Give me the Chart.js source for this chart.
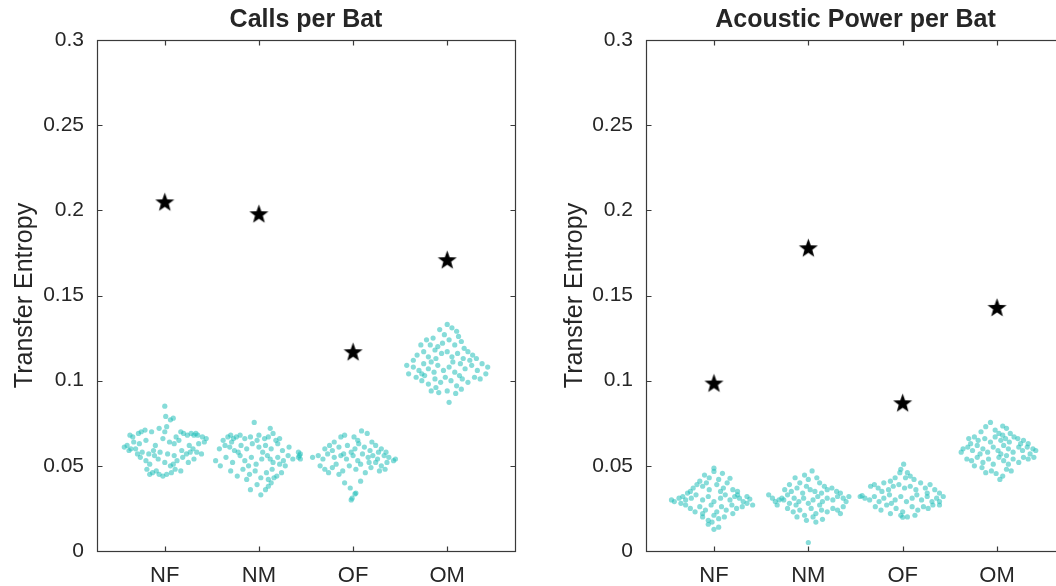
<!DOCTYPE html>
<html>
<head>
<meta charset="utf-8">
<script src="https://cdn.jsdelivr.net/npm/chart.js@4.4.1/dist/chart.umd.min.js"></script>
<style>
  html, body { margin: 0; padding: 0; background: #fff; overflow: hidden; width: 1056px; height: 586px; }
  .panel { position: absolute; top: 0; }
</style>
</head>
<body>
<div class="panel" style="left:0px"><canvas id="calls" width="530" height="586"></canvas></div>
<div class="panel" style="left:530px"><canvas id="power" width="545" height="586"></canvas></div>
<script>
// categories and axis ticks
var categories = ['NF', 'NM', 'OF', 'OM'];
var yTickValues = [0, 0.05, 0.1, 0.15, 0.2, 0.25, 0.3];
var yTickLabels = ['0', '0.05', '0.1', '0.15', '0.2', '0.25', '0.3'];

// star markers (one per category)
var callsStar = [0.205, 0.198, 0.117, 0.171];
var powerStar = [0.0986, 0.178, 0.087, 0.143];

// swarm points, [x offset from category, transfer entropy]
var callsNF = [[0.00,.085],[0.01,.079],[0.06,.077],[0.09,.078],[0.02,.073],[-0.06,.072],[0.0,.070],
  [-0.37,.068],[-0.34,.067],[-0.28,.069],[-0.25,.070],[-0.21,.071],[-0.14,.070],[0.12,.067],[0.2,.069],[0.24,.068],[0.28,.069],[0.31,.068],[0.35,.068],[0.40,.067],[0.44,.066],[0.17,.070],[0.33,.069],
  [-0.40,.062],[-0.33,.064],[-0.27,.063],[-0.2,.065],[-0.1,.062],[-0.02,.066],[0.05,.064],[0.1,.063],[0.15,.065],[0.26,.062],[0.36,.063],[0.42,.064],[-0.43,.061],[0.3,.060],[-0.36,.060],
  [-0.31,.060],[-0.24,.058],[-0.17,.057],[-0.12,.059],[-0.05,.058],[0.03,.057],[0.1,.056],[0.18,.059],[0.23,.057],[0.34,.058],[0.39,.057],[-0.38,.059],[-0.29,.057],[0.27,.058],
  [-0.26,.055],[-0.2,.053],[-0.16,.051],[-0.07,.054],[0.0,.052],[0.06,.050],[0.13,.053],[0.19,.055],[0.25,.052],[0.31,.054],[-0.11,.056],[0.09,.051],
  [-0.19,.048],[-0.13,.046],[-0.06,.045],[-0.02,.044],[0.02,.045],[-0.09,.047],[0.07,.046],[-0.16,.045],[0.11,.048],[0.17,.047]];
var callsNM = [[-0.05,.0755],[0.12,.072],[0.15,.069],[-0.02,.065],
  [-0.38,.065],[-0.33,.067],[-0.30,.068],[-0.27,.066],[-0.24,.067],[-0.2,.068],[-0.15,.066],[-0.09,.067],[0.0,.068],[0.06,.066],[0.1,.067],[0.18,.065],[0.22,.066],[-0.29,.064],
  [-0.42,.060],[-0.36,.062],[-0.31,.061],[-0.26,.059],[-0.19,.062],[-0.13,.060],[-0.07,.063],[0.0,.061],[0.07,.062],[0.13,.060],[0.2,.063],[0.25,.059],[0.32,.061],[-0.22,.058],[0.04,.058],
  [-0.46,.053],[-0.41,.050],[-0.35,.055],[-0.28,.052],[-0.2,.056],[-0.15,.053],[-0.08,.055],[-0.03,.051],[0.03,.054],[0.09,.056],[0.15,.052],[0.2,.055],[0.26,.053],[0.31,.056],[0.36,.054],[0.42,.055],[0.44,.057],[0.28,.050],[-0.11,.050],[0.12,.054],[0.22,.051],
  [-0.3,.047],[-0.23,.044],[-0.17,.048],[-0.1,.045],[-0.04,.047],[0.02,.043],[0.08,.046],[0.14,.048],[0.19,.044],[0.24,.046],[0.1,.042],[0.16,.043],[-0.13,.042],
  [-0.09,.036],[0.02,.033],[0.1,.038],[0.13,.040],[-0.02,.039],[0.07,.036]];
var callsOF = [[-0.58,.058],[-0.57,.056],[-0.56,.054],[-0.43,.055],
  [-0.13,.067],[-0.09,.068],[0.01,.067],[0.09,.0705],[0.15,.069],[-0.2,.064],[-0.25,.062],[0.05,.065],[0.2,.064],
  [-0.3,.060],[-0.22,.059],[-0.15,.061],[-0.06,.062],[0.02,.060],[0.06,.063],[0.12,.061],[0.18,.059],[0.24,.062],[0.3,.060],[0.35,.058],[-0.02,.058],[0.27,.058],
  [-0.37,.056],[-0.32,.054],[-0.27,.057],[-0.2,.055],[-0.13,.056],[-0.07,.054],[0.0,.056],[0.05,.053],[0.1,.057],[0.16,.055],[0.21,.056],[0.26,.054],[0.33,.056],[0.38,.055],[0.43,.053],[0.45,.054],[0.36,.052],[-0.1,.057],
  [-0.35,.050],[-0.3,.048],[-0.26,.046],[-0.22,.049],[-0.18,.051],[-0.11,.047],[-0.04,.050],[0.03,.048],[0.08,.051],[0.13,.046],[0.19,.049],[0.24,.052],[0.3,.050],[0.34,.048],[0.28,.047],[-0.15,.045],[0.17,.052],
  [-0.09,.040],[0.08,.041],[-0.03,.037],[0.03,.034],[-0.02,.030],[0.02,.0335],[-0.01,.031]];
var callsOM = [[0.0,.133],[0.05,.131],[0.1,.129],[-0.08,.130],[-0.03,.127],[0.12,.126],
  [-0.22,.124],[-0.15,.125],[-0.18,.121],[-0.1,.120],[-0.05,.122],[0.02,.124],[0.08,.121],[0.15,.123],[0.18,.119],[-0.13,.118],[-0.28,.121],
  [-0.32,.115],[-0.25,.117],[-0.2,.114],[-0.12,.113],[-0.06,.116],[0.0,.117],[0.05,.114],[0.11,.116],[0.17,.113],[0.22,.117],[0.27,.115],[0.31,.113],[-0.36,.112],[0.24,.112],
  [-0.43,.109],[-0.41,.104],[-0.36,.108],[-0.3,.106],[-0.25,.110],[-0.2,.107],[-0.14,.105],[-0.1,.109],[-0.04,.106],[0.02,.108],[0.08,.105],[0.14,.110],[0.19,.107],[0.26,.109],[0.32,.106],[0.37,.110],[0.43,.108],[0.41,.104],[-0.27,.104],[0.06,.111],[-0.17,.111],
  [-0.33,.102],[-0.27,.100],[-0.2,.098],[-0.13,.101],[-0.07,.099],[-0.02,.102],[0.04,.100],[0.1,.097],[0.16,.101],[0.22,.099],[0.29,.102],[0.35,.101],[-0.24,.103],[0.13,.103],
  [-0.17,.094],[-0.09,.093],[0.0,.094],[0.09,.0925],[0.15,.095],[-0.12,.096],[0.02,.0873]];

var powerNF = [[0.0,.0486],[0.0,.0467],[-0.1,.0446],[0.09,.0456],[-0.05,.043],[0.05,.042],[-0.15,.041],[0.17,.0427],
  [-0.18,.039],[-0.22,.037],[-0.12,.038],[-0.05,.036],[0.03,.039],[0.1,.037],[0.14,.040],[0.2,.036],[0.25,.035],[-0.25,.035],[0.07,.035],[-0.08,.040],
  [-0.45,.030],[-0.42,.029],[-0.37,.031],[-0.33,.032],[-0.3,.030],[-0.28,.034],[-0.24,.031],[-0.19,.033],[-0.12,.030],[-0.06,.032],[0.0,.029],[0.07,.031],[0.12,.033],[0.17,.030],[0.22,.032],[0.27,.031],[0.31,.029],[0.35,.032],[0.38,.0305],[-0.35,.028],[0.25,.033],
  [-0.3,.027],[-0.25,.025],[-0.2,.023],[-0.15,.026],[-0.09,.024],[-0.03,.027],[0.03,.023],[0.08,.026],[0.13,.024],[0.19,.027],[0.24,.025],[0.3,.026],[0.35,.028],[0.41,.027],[0.2,.022],[-0.12,.022],
  [-0.12,.020],[-0.06,.018],[0.0,.021],[0.05,.019],[0.11,.020],[-0.06,.0157],[0.0,.0127],[0.05,.014],[-0.02,.017]];
var powerNM = [[-0.42,.033],[-0.38,.031],[-0.35,.029],[-0.31,.030],[-0.28,.031],[-0.33,.027],
  [0.04,.047],[-0.04,.0446],[-0.14,.043],[0.0,.042],[0.12,.040],[0.17,.038],[-0.09,.040],[0.09,.043],[-0.2,.039],
  [-0.25,.036],[-0.18,.035],[-0.12,.037],[-0.06,.034],[0.02,.036],[0.07,.035],[0.14,.034],[0.2,.036],[0.25,.037],[0.3,.035],[-0.22,.033],[0.34,.034],[-0.02,.038],
  [-0.26,.030],[-0.2,.028],[-0.15,.031],[-0.1,.029],[-0.05,.031],[0.0,.028],[0.05,.030],[0.1,.032],[0.15,.029],[0.2,.031],[0.26,.030],[0.31,.032],[0.37,.031],[0.43,.032],[0.4,.029],[-0.13,.027],[0.12,.027],
  [-0.22,.025],[-0.16,.023],[-0.09,.024],[-0.04,.021],[0.03,.025],[0.08,.022],[0.14,.024],[0.2,.023],[0.26,.025],[0.31,.024],[0.37,.026],[0.34,.022],[-0.12,.020],[0.05,.020],
  [-0.02,.018],[0.15,.0186],[0.08,.017],[0.0,.005]];
var powerOF = [[-0.45,.032],[-0.43,.0325],[-0.4,.031],
  [0.01,.051],[-0.02,.048],[-0.03,.046],[0.05,.046],[0.08,.044],[-0.08,.043],[0.12,.042],[-0.13,.041],[0.03,.043],
  [-0.34,.038],[-0.3,.039],[-0.26,.037],[-0.2,.040],[-0.15,.036],[-0.1,.038],[-0.04,.039],[0.02,.037],[0.08,.038],[0.14,.036],[0.19,.040],[0.24,.037],[0.29,.039],[0.34,.036],[0.39,.034],[-0.22,.035],[0.26,.034],
  [-0.35,.030],[-0.3,.032],[-0.25,.029],[-0.2,.031],[-0.14,.033],[-0.08,.030],[-0.02,.032],[0.04,.029],[0.1,.031],[0.15,.033],[0.2,.030],[0.26,.032],[0.31,.029],[0.36,.031],[0.43,.032],[0.39,.029],[-0.12,.028],
  [-0.29,.026],[-0.23,.024],[-0.17,.027],[-0.13,.022],[-0.07,.025],[0.0,.023],[0.05,.020],[0.0,.0198],[0.1,.026],[0.16,.024],[0.22,.026],[0.27,.025],[0.32,.027],[0.39,.027],[-0.02,.021],[0.13,.021]];
var powerOM = [[-0.07,.0755],[-0.12,.073],[0.06,.0734],[0.1,.072],[-0.02,.071],[0.02,.069],[-0.17,.070],[0.14,.069],
  [-0.3,.066],[-0.24,.067],[-0.2,.065],[-0.13,.066],[-0.07,.064],[-0.02,.067],[0.04,.065],[0.09,.066],[0.13,.064],[0.18,.067],[0.22,.066],[0.28,.065],[0.33,.063],[-0.28,.063],[0.25,.063],[0.06,.068],
  [-0.36,.060],[-0.38,.058],[-0.31,.061],[-0.26,.059],[-0.21,.062],[-0.15,.060],[-0.1,.058],[-0.04,.061],[0.01,.059],[0.07,.062],[0.12,.060],[0.17,.058],[0.23,.061],[0.27,.059],[0.32,.061],[0.38,.060],[0.41,.059],[0.35,.057],[-0.18,.057],[0.04,.057],
  [-0.32,.054],[-0.27,.053],[-0.21,.055],[-0.15,.052],[-0.09,.054],[-0.04,.051],[0.02,.055],[0.07,.053],[0.12,.051],[0.17,.054],[0.23,.052],[0.28,.055],[0.33,.054],[0.39,.055],[-0.24,.050],[0.1,.056],
  [-0.12,.046],[-0.06,.047],[-0.01,.0455],[0.03,.042],[0.06,.044],[0.1,.048],[-0.16,.049],[0.15,.047]];

var FONT = "'Liberation Sans', Arial, Helvetica, sans-serif";
var INK = '#262626';
var DOT = 'rgba(36, 192, 186, 0.55)';

// filled five point star used as marker
function makeStar() {
  var c = document.createElement('canvas');
  c.width = 21; c.height = 21;
  var g = c.getContext('2d');
  g.fillStyle = '#000';
  g.beginPath();
  for (var i = 0; i < 10; i++) {
    var r = i % 2 === 0 ? 10 : 4.1;
    var a = -Math.PI / 2 + i * Math.PI / 5;
    g.lineTo(10.5 + r * Math.cos(a), 11.3 + r * Math.sin(a));
  }
  g.closePath();
  g.fill();
  return c;
}
var starImg = makeStar();

// box around plot area with inward ticks, like matlab axes
var boxPlugin = {
  id: 'box',
  afterDraw: function(chart) {
    var ctx = chart.ctx, a = chart.chartArea;
    var xs = chart.scales.x, ys = chart.scales.y;
    var L = Math.round(a.left) + 0.5, R = Math.round(a.right) + 0.5;
    var T = Math.round(a.top) + 0.5, B = Math.round(a.bottom) + 0.5;
    ctx.save();
    ctx.strokeStyle = '#3a3a3a';
    ctx.lineWidth = 1.2;
    ctx.strokeRect(L, T, R - L, B - T);
    ctx.beginPath();
    xs.ticks.forEach(function(t) {
      var px = Math.round(xs.getPixelForValue(t.value)) + 0.5;
      ctx.moveTo(px, B); ctx.lineTo(px, B - 5);
      ctx.moveTo(px, T); ctx.lineTo(px, T + 5);
    });
    ys.ticks.forEach(function(t) {
      var py = Math.round(ys.getPixelForValue(t.value)) + 0.5;
      ctx.moveTo(L, py); ctx.lineTo(L + 5, py);
      ctx.moveTo(R, py); ctx.lineTo(R - 5, py);
    });
    ctx.stroke();
    ctx.restore();
  }
};

function makeChart(id, title, groups, stars, yWidth, yTitlePad, rightPad) {
  var pts = [];
  groups.forEach(function(g, i) {
    g.forEach(function(p) { pts.push({x: i + 1 + p[0], y: p[1]}); });
  });
  var starPts = stars.map(function(v, i) { return {x: i + 1, y: v}; });
  return new Chart(document.getElementById(id), {
    type: 'scatter',
    data: {
      datasets: [
        { data: starPts, pointStyle: starImg, pointRadius: 9 },
        { data: pts, backgroundColor: DOT, borderWidth: 0, pointRadius: 2.6 }
      ]
    },
    options: {
      responsive: false,
      animation: false,
      layout: { padding: { left: 0, right: rightPad, top: 0, bottom: 0 } },
      plugins: {
        legend: { display: false },
        tooltip: { enabled: false },
        title: {
          display: true, text: title, fullSize: false, color: INK,
          font: { family: FONT, size: 25, weight: 'bold' },
          padding: { top: 5, bottom: 5 }
        }
      },
      scales: {
        x: {
          type: 'linear', min: 0.28, max: 4.72,
          grid: { display: false, drawTicks: false },
          border: { display: false },
          afterBuildTicks: function(s) { s.ticks = categories.map(function(c, i) { return {value: i + 1}; }); },
          afterFit: function(s) { s.height = 35; },
          ticks: {
            autoSkip: false, maxRotation: 0, padding: 12, color: INK,
            font: { family: FONT, size: 22 },
            callback: function(v) { return categories[Math.round(v) - 1]; }
          }
        },
        y: {
          min: 0, max: 0.3,
          grid: { display: false, drawTicks: false },
          border: { display: false },
          afterBuildTicks: function(s) { s.ticks = yTickValues.map(function(v) { return {value: v}; }); },
          afterFit: function(s) { s.width = yWidth; },
          ticks: {
            autoSkip: false, padding: 13, color: INK,
            font: { family: FONT, size: 21 },
            callback: function(v, i) { return yTickLabels[i]; }
          },
          title: {
            display: true, text: 'Transfer Entropy', color: INK,
            font: { family: FONT, size: 25 },
            padding: { top: yTitlePad, bottom: 0 }
          }
        }
      }
    },
    plugins: [boxPlugin]
  });
}

makeChart('calls', 'Calls per Bat', [callsNF, callsNM, callsOF, callsOM], callsStar, 97, 10, 15);
makeChart('power', 'Acoustic Power per Bat', [powerNF, powerNM, powerOF, powerOM], powerStar, 116, 30, 10);
</script>
</body>
</html>
